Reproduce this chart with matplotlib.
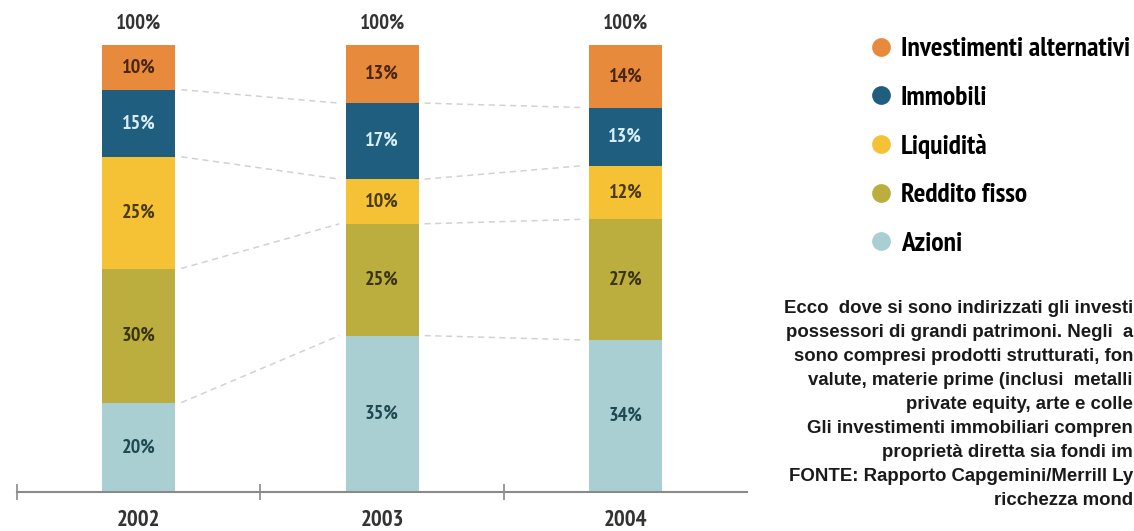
import matplotlib
matplotlib.use("Agg")
import matplotlib.pyplot as plt
from matplotlib.lines import Line2D
import numpy as np

years = ["2002", "2003", "2004"]
categories = ["Azioni", "Reddito fisso", "Liquidità", "Immobili", "Investimenti alternativi"]
azioni = [20, 35, 34]
reddito_fisso = [30, 25, 27]
liquidita = [25, 10, 12]
immobili = [15, 17, 13]
alternativi = [10, 13, 14]
series = [azioni, reddito_fisso, liquidita, immobili, alternativi]

colors = ["#a9cfd3", "#bbae3e", "#f4c234", "#1f5e7e", "#e88a3c"]
label_colors = ["#1d4a50", "#3a3410", "#4a3a10", "#d8eef5", "#4a2510"]

note_lines = [
    "Ecco  dove si sono indirizzati gli investi",
    "possessori di grandi patrimoni. Negli  a",
    "sono compresi prodotti strutturati, fon",
    "valute, materie prime (inclusi  metalli",
    "private equity, arte e colle",
    "Gli investimenti immobiliari compren",
    "proprietà diretta sia fondi im",
    "FONTE: Rapporto Capgemini/Merrill Ly",
    "ricchezza mond",
]

NARROW = ["PT Sans Narrow", "DejaVu Sans"]
WIDE = ["Liberation Sans", "DejaVu Sans"]

fig = plt.figure(figsize=(11.34, 5.31), dpi=100)
ax = fig.add_axes([17 / 1134, 39 / 531, 730 / 1134, 447 / 531])

x = np.arange(len(years))
bw = 0.30
bottom = np.zeros(len(years))
bounds = []
for vals, col, lc in zip(series, colors, label_colors):
    vals = np.array(vals, dtype=float)
    ax.bar(x, vals, bw, bottom=bottom, color=col, linewidth=0, zorder=2)
    for xi, b, v in zip(x, bottom, vals):
        ax.text(xi, b + v / 2, f"{int(v)}%", ha="center", va="center",
                color=lc, fontsize=14.5, fontweight="bold", family=NARROW, zorder=3)
    bottom = bottom + vals
    bounds.append(bottom.copy())

# dashed connectors between segment boundaries
gap = 0.025
for bnd in bounds[:-1]:
    for i in range(len(years) - 1):
        ax.plot([x[i] + bw / 2 + gap, x[i + 1] - bw / 2 - gap], [bnd[i], bnd[i + 1]],
                color="#d2d2d2", lw=1.1, ls=(0, (4, 3)), zorder=1)

totals = bounds[-1]
for xi, t in zip(x, totals):
    ax.annotate(f"{int(round(t))}%", (xi, t), xytext=(0, 16), textcoords="offset points",
                ha="center", va="center", fontsize=15, fontweight="bold",
                color="#333333", family=NARROW, annotation_clip=False)

ax.set_xlim(-0.5, 2.5)
ax.set_ylim(0, 100)
for s in ["left", "top", "right"]:
    ax.spines[s].set_visible(False)
ax.spines["bottom"].set_color("#8a8a8a")
ax.spines["bottom"].set_linewidth(1.5)
ax.set_yticks([])
ax.set_xticks([-0.5, 0.5, 1.5])
ax.set_xticklabels([])
ax.tick_params(axis="x", which="major", direction="inout", length=12, width=1.2, color="#8a8a8a")
ax.set_xticks(x, minor=True)
ax.set_xticklabels(years, minor=True)
ax.tick_params(axis="x", which="minor", length=0, pad=13)
for lbl in ax.get_xticklabels(minor=True):
    lbl.set_fontsize(16.5)
    lbl.set_fontweight("bold")
    lbl.set_family(NARROW)
    lbl.set_color("#333333")

# legend (top category first)
handles = [Line2D([], [], marker="o", ls="none", markersize=13.5, markerfacecolor=c,
                  markeredgecolor="none") for c in colors[::-1]]
fig.legend(handles, categories[::-1], loc="upper left", bbox_to_anchor=(868 / 1134, 1 - 37 / 531),
           frameon=False, prop={"family": NARROW, "weight": "bold", "size": 19.8},
           handlelength=0.95, handletextpad=0.25, labelspacing=0.88, borderpad=0, borderaxespad=0)

fig.text(1133 / 1134, 1 - 300 / 531, "\n".join(note_lines), ha="right", va="top",
         multialignment="right", fontsize=13.4, fontweight="bold", family=WIDE,
         color="#1a1a1a", linespacing=1.54)

fig.savefig("out.png", dpi=100)
